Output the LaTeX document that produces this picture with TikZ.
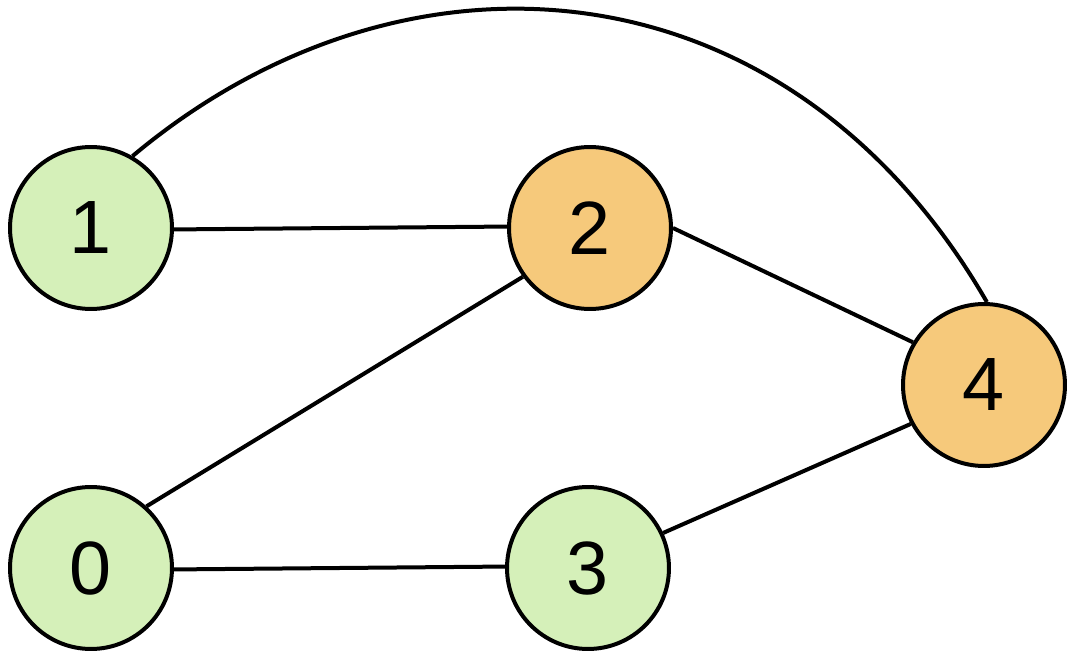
\documentclass[tikz,border=0pt]{standalone}
\usepackage{fontspec}
\setmainfont{Liberation Sans}
\usepackage{tikz}
\usetikzlibrary{calc}

\definecolor{vgreen}{RGB}{213,240,185}
\definecolor{vorange}{RGB}{246,201,123}

\begin{document}
\begin{tikzpicture}[x=0.02cm,y=0.02cm,
    vertex/.style={circle,draw,line width=0.08cm,inner sep=0pt,
      minimum size=3.24cm,font=\fontsize{43}{43}\selectfont},
    greenv/.style={vertex,fill=vgreen},
    orangev/.style={vertex,fill=vorange},
    edge/.style={line width=0.08cm}]
  \useasboundingbox (0,0) rectangle (1076,660);

  %% Vertices of the graph
  \node[greenv]  (V1) at (91,432)   {1};
  \node[orangev] (V2) at (590,432)  {2};
  \node[orangev] (V4) at (984,275)  {4};
  \node[greenv]  (V0) at (91,92)    {0};
  \node[greenv]  (V3) at (588,92)   {3};

  %% Straight edges
  \draw[edge] (V1.-1) -- (V2.179);
  \draw[edge] (V0.-1) -- (V3.179);
  \draw[edge] (V0.48) -- (V2.216);
  \draw[edge] (V2.0)  -- (V4.149);
  \draw[edge] (V3.25) -- (V4.208);

  %% The long edge over the top
  \draw[edge] (V1.60) .. controls +(40:355) and +(120:400) .. (V4.88);
\end{tikzpicture}
\end{document}
